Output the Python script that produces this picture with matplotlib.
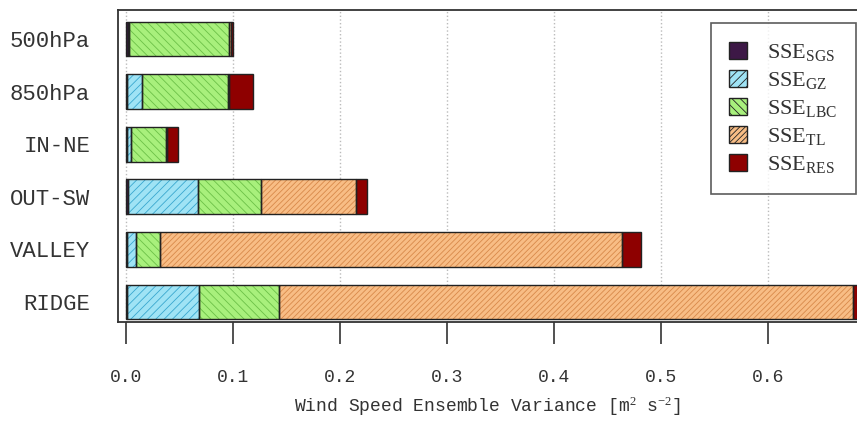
import numpy as np
import matplotlib
matplotlib.use('Agg')
from matplotlib import pyplot as plt
from matplotlib.patches import Patch

# data (variance contributions, m2 s-2)
sites = ['RIDGE', 'VALLEY', 'OUT-SW', 'IN-NE', '850hPa', '500hPa']
sse_sgs = [0.001, 0.001, 0.002, 0.001, 0.001, 0.002]
sse_gz = [0.067, 0.008, 0.065, 0.004, 0.014, 0.001]
sse_lbc = [0.075, 0.023, 0.059, 0.032, 0.080, 0.093]
sse_tl = [0.536, 0.431, 0.089, 0.001, 0.001, 0.002]
sse_res = [0.012, 0.018, 0.010, 0.011, 0.023, 0.002]
labels = ['SGS', 'GZ', 'LBC', 'TL', 'RES']

plt.rcParams['font.family'] = ['Liberation Mono', 'DejaVu Sans']
plt.rcParams['mathtext.fontset'] = 'custom'
plt.rcParams['mathtext.rm'] = 'Liberation Serif'
plt.rcParams['mathtext.it'] = 'Liberation Serif:italic'
plt.rcParams['hatch.linewidth'] = 0.6

txt_col = '#333333'
faces = ['#3d1846', '#9fe3f5', '#a8f07c', '#f8bd85', '#8e0000']
hatch_cols = ['#3d1846', '#3aa8cf', '#6cc048', '#d8894a', '#8e0000']
hatches = ['', '////', '\\\\\\\\', '//////', '']

fig = plt.figure(figsize=(8.57, 4.23), dpi=100)
ax = fig.add_axes([0.1377, 0.2388, 0.8623, 0.7375])

y = np.arange(len(sites))
h = 0.66
left = np.zeros(len(sites))
series = [sse_sgs, sse_gz, sse_lbc, sse_tl, sse_res]
for vals, fc, hc, ht in zip(series, faces, hatch_cols, hatches):
    vals = np.array(vals)
    ax.barh(y, vals, height=h, left=left, color=fc, edgecolor=hc, hatch=ht, linewidth=0, zorder=2)
    ax.barh(y, vals, height=h, left=left, fill=False, edgecolor='#222222', linewidth=1.0, zorder=3)
    left += vals

ax.set_yticks(y)
ax.set_yticklabels(sites, fontsize=16, color=txt_col)
ax.tick_params(axis='y', length=0, pad=20)
xt = np.arange(0, 0.61, 0.1)
ax.set_xticks(xt)
ax.set_xticklabels(['%.1f' % v for v in xt], fontsize=13, color=txt_col)
ax.tick_params(axis='x', direction='out', length=16, width=1.2, pad=18, color='#333333')
ax.set_xlim(-0.0075, 0.683)
ax.set_ylim(-0.38, 5.55)
ax.xaxis.grid(True, linestyle=':', color='#bbbbbb', linewidth=1.0, zorder=0)
ax.set_axisbelow(True)
for s in ['left', 'top', 'bottom']:
    ax.spines[s].set_linewidth(1.3)
    ax.spines[s].set_color('#333333')
ax.spines['right'].set_visible(False)
ax.set_xlabel('Wind Speed Ensemble Variance [m$^2$ s$^{-2}$]', fontsize=13, labelpad=6, color=txt_col)

handles = [Patch(facecolor=fc, edgecolor=hc, hatch=ht, linewidth=0) for fc, hc, ht in zip(faces, hatch_cols, hatches)]
leg = ax.legend(handles, [r'$\mathrm{SSE}_{\mathrm{%s}}$' % l for l in labels], loc='upper right',
                bbox_to_anchor=(0.9986, 0.958), borderaxespad=0, fontsize=16, frameon=True,
                fancybox=False, edgecolor='#333333', handlelength=0.8, handleheight=0.8,
                borderpad=0.85, labelspacing=0.3, handletextpad=0.9)
leg.get_frame().set_linewidth(1.2)
for p in leg.get_patches():
    p.set_edgecolor('#222222')
    p.set_linewidth(1.0)
for t in leg.get_texts():
    t.set_color(txt_col)

fig.savefig('out.png', dpi=100)
